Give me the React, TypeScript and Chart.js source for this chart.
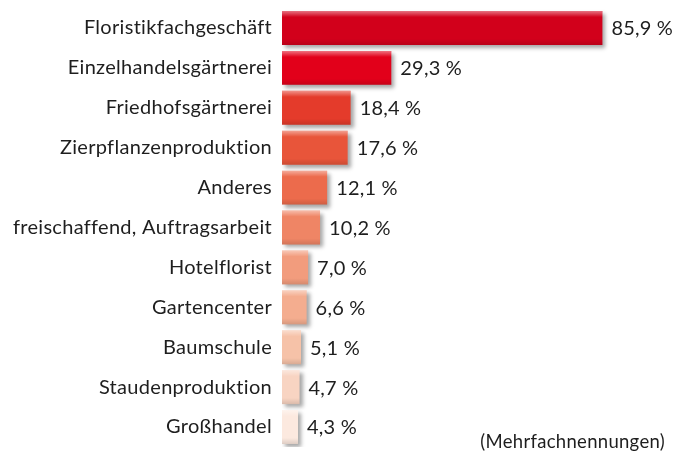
import React, { useEffect, useRef } from "react";
import { Chart, registerables } from "chart.js";

Chart.register(...registerables);

const categories = [
  "Floristikfachgeschäft",
  "Einzelhandelsgärtnerei",
  "Friedhofsgärtnerei",
  "Zierpflanzenproduktion",
  "Anderes",
  "freischaffend, Auftragsarbeit",
  "Hotelflorist",
  "Gartencenter",
  "Baumschule",
  "Staudenproduktion",
  "Großhandel",
];
const values = [85.9, 29.3, 18.4, 17.6, 12.1, 10.2, 7.0, 6.6, 5.1, 4.7, 4.3];
const valueLabels = ["85,9 %", "29,3 %", "18,4 %", "17,6 %", "12,1 %", "10,2 %", "7,0 %", "6,6 %", "5,1 %", "4,7 %", "4,3 %"];
const barColors = [
  "#d2001b",
  "#e2001a",
  "#e43b2b",
  "#e8553a",
  "#ec6b4c",
  "#ef8565",
  "#f29c7d",
  "#f4ad8f",
  "#f6c2a8",
  "#f8d4c2",
  "#fce9df",
];
const footnote = "(Mehrfachnennungen)";

const FONT = "Lato";
const TEXT_COLOR = "#1e1e1e";

export default function App() {
  const canvasRef = useRef<HTMLCanvasElement | null>(null);

  useEffect(() => {
    document.body.style.margin = "0";
    const canvas = canvasRef.current;
    if (!canvas) return;

    const decorPlugin = {
      id: "decor",
      beforeDraw(chart: any) {
        // non-zero letter spacing also disables the "ti" ligature
        (chart.ctx as any).letterSpacing = "0.3px";
      },
      beforeDatasetsDraw(chart: any) {
        const ctx = chart.ctx;
        ctx.save();
        ctx.shadowColor = "rgba(0,0,0,0.35)";
        ctx.shadowBlur = 4;
        ctx.shadowOffsetX = 3;
        ctx.shadowOffsetY = 3;
      },
      afterDatasetsDraw(chart: any) {
        const ctx = chart.ctx;
        ctx.restore();
        const meta = chart.getDatasetMeta(0);
        meta.data.forEach((bar: any, i: number) => {
          const top = bar.y - bar.height / 2;
          const left = Math.min(bar.base, bar.x);
          const w = Math.abs(bar.x - bar.base);
          const g = ctx.createLinearGradient(0, top, 0, top + bar.height);
          g.addColorStop(0, "rgba(255,255,255,0.45)");
          g.addColorStop(0.18, "rgba(255,255,255,0.0)");
          g.addColorStop(0.82, "rgba(0,0,0,0.0)");
          g.addColorStop(1, "rgba(0,0,0,0.12)");
          ctx.save();
          ctx.fillStyle = g;
          ctx.fillRect(left, top, w, bar.height);
          ctx.restore();

          ctx.save();
          ctx.letterSpacing = "0.2px";
          ctx.font = `20px ${FONT}`;
          ctx.fillStyle = TEXT_COLOR;
          ctx.textAlign = "left";
          ctx.textBaseline = "middle";
          ctx.fillText(valueLabels[i], bar.x + 9, bar.y + 1);
          ctx.restore();
        });

        ctx.save();
        ctx.letterSpacing = "0.3px";
        ctx.font = `18.5px ${FONT}`;
        ctx.fillStyle = TEXT_COLOR;
        ctx.textAlign = "right";
        ctx.textBaseline = "middle";
        ctx.fillText(footnote, 665, 442);
        ctx.restore();
      },
    };

    const chart = new Chart(canvas, {
      type: "bar",
      data: {
        labels: categories,
        datasets: [
          {
            data: values,
            backgroundColor: barColors,
            borderWidth: 0,
            categoryPercentage: 1,
            barPercentage: 0.85,
          },
        ],
      },
      options: {
        indexAxis: "y",
        animation: false,
        responsive: false,
        maintainAspectRatio: false,
        layout: { padding: { left: 0, right: 20, top: 8, bottom: 8 } },
        plugins: {
          legend: { display: false },
          tooltip: { enabled: false },
        },
        scales: {
          x: {
            min: 0,
            max: 100,
            display: false,
          },
          y: {
            grid: { display: false, drawTicks: false },
            border: { display: false },
            ticks: {
              color: TEXT_COLOR,
              font: { family: FONT, size: 20 },
              padding: 10,
              autoSkip: false,
            },
            afterFit(scale: any) {
              scale.width = 282;
              scale.paddingTop = 0;
              scale.paddingBottom = 0;
            },
          },
        },
      },
      plugins: [decorPlugin],
    });

    return () => chart.destroy();
  }, []);

  return (
    <div style={{ width: 675, height: 455, background: "#ffffff" }}>
      <canvas ref={canvasRef} width={675} height={455} style={{ display: "block" }} />
    </div>
  );
}
